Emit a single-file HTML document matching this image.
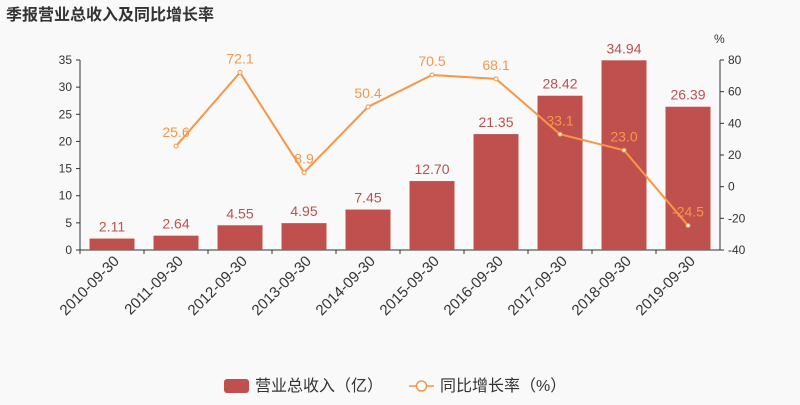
<!DOCTYPE html>
<html><head><meta charset="utf-8"><style>
body{margin:0;background:#f9f9f9;}
svg text{font-family:"Liberation Sans","Noto Sans CJK SC",sans-serif;}
</style></head><body>
<svg id="c" width="800" height="400" xmlns="http://www.w3.org/2000/svg">
<rect width="800" height="400" fill="#f9f9f9"/>
<text x="6" y="20" font-size="16" font-weight="bold" fill="#333">季报营业总收入及同比增长率</text>
<g id="g"></g>
<g>
<rect x="224" y="379" width="25" height="14" rx="3" fill="#c0504d"/>
<text x="255" y="391" font-size="16" fill="#333">营业总收入（亿）</text>
<line x1="409" y1="386" x2="434" y2="386" stroke="#f79646" stroke-width="1.5"/>
<circle cx="421.5" cy="386" r="5" fill="#fff" stroke="#f79646" stroke-width="1.5"/>
<text x="440" y="391" font-size="16" fill="#333">同比增长率（%）</text>
</g>
</svg>
<script>
const categories=["2010-09-30","2011-09-30","2012-09-30","2013-09-30","2014-09-30","2015-09-30","2016-09-30","2017-09-30","2018-09-30","2019-09-30"];
const revenue=[2.11,2.64,4.55,4.95,7.45,12.70,21.35,28.42,34.94,26.39];
const growth=[null,25.6,72.1,8.9,50.4,70.5,68.1,33.1,23.0,-24.5];
const leftTicks=[0,5,10,15,20,25,30,35];
const rightTicks=[-40,-20,0,20,40,60,80];
const L=80,R=720,T=60,B=250,NS="http://www.w3.org/2000/svg";
const g=document.getElementById('g');
const yL=v=>B-v/35*(B-T);
const yR=v=>B-(v+40)/120*(B-T);
const band=(R-L)/categories.length;
const xC=i=>L+band*(i+0.5);
function el(t,a,txt){const e=document.createElementNS(NS,t);for(const k in a)e.setAttribute(k,a[k]);if(txt!=null)e.textContent=txt;g.appendChild(e);return e;}
let e;
leftTicks.forEach(v=>{e=el('text',{x:L-8,y:yL(v)+4,'font-size':12,fill:'#333','text-anchor':'end'},v);
el('line',{x1:L-4,x2:L,y1:yL(v),y2:yL(v),stroke:'#333'});});
rightTicks.forEach(v=>{e=el('text',{x:R+8,y:yR(v)+4,'font-size':12,fill:'#333'},v);
el('line',{x1:R,x2:R+4,y1:yR(v),y2:yR(v),stroke:'#333'});});
e=el('text',{x:R-6,y:43,'font-size':12,fill:'#333'},'%');
el('line',{x1:L,x2:L,y1:T,y2:B,stroke:'#333'});
el('line',{x1:R,x2:R,y1:T,y2:B,stroke:'#333'});
el('line',{x1:L,x2:R,y1:B,y2:B,stroke:'#333'});
categories.forEach((c,i)=>{
 const bw=45,v=revenue[i];
 e=el('rect',{x:xC(i)-bw/2,y:yL(v),width:bw,height:B-yL(v),fill:'#c0504d'});
 
 e=el('text',{x:xC(i),y:yL(v)-7,'font-size':14,fill:'#c0504d','text-anchor':'middle'},v.toFixed(2));
 
 el('line',{x1:L+band*i,x2:L+band*i,y1:B,y2:B+4,stroke:'#333'});
 e=el('text',{x:xC(i)+8,y:B+12,'font-size':15,fill:'#333','text-anchor':'end',transform:`rotate(-45 ${xC(i)+8} ${B+12})`},c);
 
});
let pts=[];growth.forEach((v,i)=>{if(v!=null)pts.push([xC(i),yR(v),v]);});
e=el('polyline',{points:pts.map(p=>p[0]+','+p[1]).join(' '),fill:'none',stroke:'#f79646','stroke-width':2});

pts.forEach(p=>{e=el('circle',{cx:p[0],cy:p[1],r:2,fill:'#fff',stroke:'#f79646'});
 e=el('text',{x:p[0],y:p[1]-9,'font-size':14,fill:'#f79646','text-anchor':'middle'},p[2].toFixed(1));});
</script>
</body></html>
